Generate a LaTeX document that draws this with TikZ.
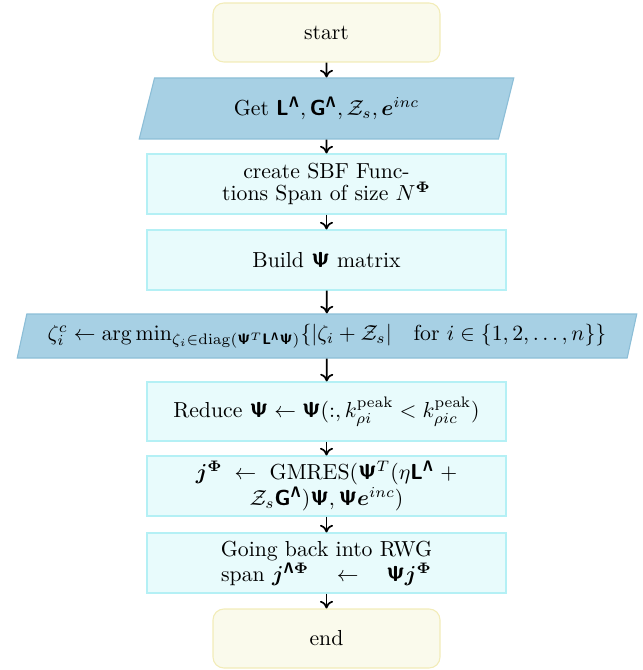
\documentclass[tikz,border=0pt]{standalone}
\usepackage{amsmath,amssymb,bm}
\usetikzlibrary{shapes.geometric,arrows.meta}
\DeclareMathAlphabet{\mathsfb}{OT1}{cmss}{bx}{n}
\definecolor{termfill}{RGB}{250,250,236}
\definecolor{termdraw}{RGB}{242,236,184}
\definecolor{iofill}{RGB}{167,208,228}
\definecolor{iodraw}{RGB}{140,190,215}
\definecolor{procfill}{RGB}{232,251,252}
\definecolor{procdraw}{RGB}{180,240,245}
\newcommand{\pu}{0.46pt}
\newcommand{\Psib}{\mathsfb{\Psi}}
\begin{document}
\begin{tikzpicture}[x=0.46pt,y=-0.46pt,
  term/.style={draw=termdraw,fill=termfill,rounded corners=5pt,line width=0.5pt,
    minimum width=227*\pu,minimum height=59*\pu,inner sep=0pt,align=center},
  io/.style={trapezium,trapezium left angle=70,trapezium right angle=110,
    trapezium stretches=true,draw=iodraw,fill=iofill,line width=0.5pt,
    inner sep=0pt,align=center},
  proc/.style={draw=procdraw,fill=procfill,line width=0.5pt,
    minimum width=359*\pu,minimum height=60*\pu,inner sep=0pt,align=center},
  flow/.style={-{To[length=3.5pt,width=6pt]},thick}]
\useasboundingbox (0,0) rectangle (642,670);

\node[term] (start) at (326.5,32.5) {start};
\node[io,minimum width=377*\pu,minimum height=61*\pu] (get) at (326.5,108.5)
  {Get $\mathsfb{L}^{\mathsfb{\Lambda}}, \mathsfb{G}^{\mathsfb{\Lambda}}, \mathcal{Z}_s, \bm{e}^{inc}$};
\node[proc,font=\fontsize{10}{10}\selectfont] (sbf) at (326.5,184)
  {create SBF Func-\\tions Span of size $N^{\bm{\Phi}}$};
\node[proc] (build) at (326.5,260) {Build $\Psib$ matrix};
\node[io,minimum width=620*\pu,minimum height=44*\pu] (zeta) at (327,336)
  {$\zeta_i^c \leftarrow \arg\min_{\zeta_i\in\mathrm{diag}(\Psib^T\mathsfb{L}^{\mathsfb{\Lambda}}\Psib)}\{|\zeta_i+\mathcal{Z}_s| \quad \text{for } i\in\{1,2,\dots,n\}\}$};
\node[proc,minimum height=59*\pu] (reduce) at (326.5,411.5)
  {Reduce $\Psib \leftarrow \Psib(:, k_{\rho i}^{\mathrm{peak}} < k_{\rho ic}^{\mathrm{peak}})$};
\node[proc] (gmres) at (326.5,486)
  {$\bm{j}^{\bm{\Phi}} \;\leftarrow\;$ GMRES$(\Psib^T(\eta\mathsfb{L}^{\mathsfb{\Lambda}}\;+$\\
   $\mathcal{Z}_s\mathsfb{G}^{\mathsfb{\Lambda}})\Psib,\Psib\bm{e}^{inc})$};
\node[proc,font=\fontsize{10}{9}\selectfont] (back) at (326.5,563)
  {Going back into RWG\\span $\bm{j}^{\mathsfb{\Lambda}\bm{\Phi}} \quad\leftarrow\quad \Psib\bm{j}^{\bm{\Phi}}$};
\node[term] (end) at (326.5,638.5) {end};

\draw[flow] (start) -- (get);
\draw[flow] (get) -- (sbf);
\draw[flow] (sbf) -- (build);
\draw[flow] (build) -- (zeta);
\draw[flow] (zeta) -- (reduce);
\draw[flow] (reduce) -- (gmres);
\draw[flow] (gmres) -- (back);
\draw[flow] (back) -- (end);
\end{tikzpicture}
\end{document}
